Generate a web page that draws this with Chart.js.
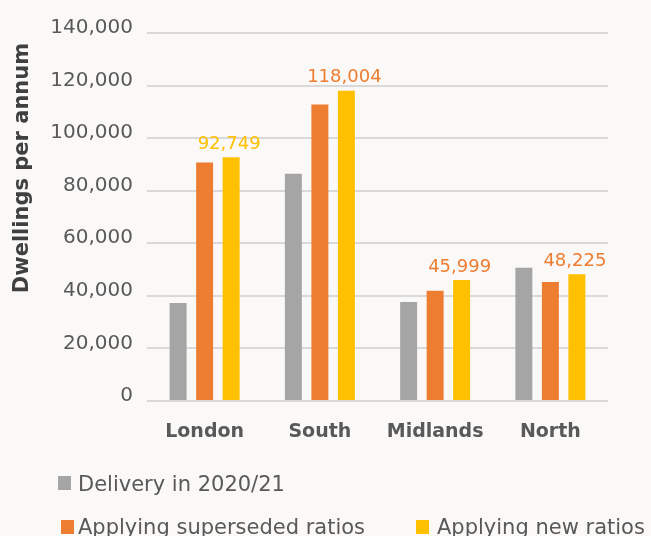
<!DOCTYPE html>
<html lang="en">
<head>
<meta charset="UTF-8">
<title>Dwellings per annum</title>
<script src="https://cdn.jsdelivr.net/npm/chart.js"></script>
<style>
    body {
        margin: 0;
        background: #FAF9F7;
    }
    #wrap {
        position: relative;
        width: 651px;
        height: 536px;
        overflow: hidden;
    }
    #legend {
        position: absolute;
        left: 0;
        top: 0;
        font-family: 'DejaVu Sans';
        font-size: 21px;
        color: #595959;
    }
    .item {
        position: absolute;
        white-space: nowrap;
        height: 24px;
        line-height: 24px;
    }
    .box {
        position: absolute;
        left: 0;
        width: 13px;
        height: 14px;
    }
    .txt {
        position: absolute;
        top: 0;
    }
</style>
</head>
<body>

<div id="wrap">
    <canvas id="myBarChart" width="651" height="536"></canvas>
    <div id="legend"></div>
</div>

<script>
var categories = ['London', 'South', 'Midlands', 'North'];
var seriesNames = ['Delivery in 2020/21', 'Applying superseded ratios', 'Applying new ratios'];
var seriesColors = ['#A5A5A5', '#ED7D31', '#FFC000'];

var delivery = [37300, 86500, 37700, 50700];
var superseded = [90700, 112800, 41900, 45300];
var newRatios = [92749, 118004, 45999, 48225];

var yTicks = [0, 20000, 40000, 60000, 80000, 100000, 120000, 140000];
var valueLabelColors = ['#FFC000', '#ED7D31', '#ED7D31', '#ED7D31'];

// legend rows: left, top, text offset
var legendPos = [[58, 472, 20], [61, 515, 17], [416, 515, 21]];

var seriesValues = [delivery, superseded, newRatios];

var barData = {
    labels: categories,
    datasets: seriesNames.map(function (name, i) {
        return {
            label: name,
            data: seriesValues[i],
            backgroundColor: seriesColors[i],
            categoryPercentage: 0.69,
            barPercentage: 0.64
        };
    })
};

// value labels above the "new ratios" bars
var valueLabels = {
    id: 'valueLabels',
    afterDatasetsDraw: function (chart) {
        var ctx = chart.ctx;
        var meta = chart.getDatasetMeta(2);
        ctx.save();
        ctx.font = '18px "DejaVu Sans"';
        ctx.textAlign = 'center';
        ctx.textBaseline = 'middle';
        meta.data.forEach(function (bar, i) {
            ctx.fillStyle = valueLabelColors[i];
            ctx.fillText(newRatios[i].toLocaleString('en-US'), bar.x - 2, bar.y - 13);
        });
        ctx.restore();
    }
};

// y axis title, sits higher than the axis middle
var yTitle = {
    id: 'yTitle',
    afterDraw: function (chart) {
        var ctx = chart.ctx;
        ctx.save();
        ctx.translate(23, 168);
        ctx.rotate(-Math.PI / 2);
        ctx.font = 'bold 21px "DejaVu Sans"';
        ctx.fillStyle = '#404040';
        ctx.textAlign = 'center';
        ctx.textBaseline = 'middle';
        ctx.fillText('Dwellings per annum', 0, 0);
        ctx.restore();
    }
};

var barOptions = {
    responsive: false,
    animation: false,
    devicePixelRatio: 1,
    layout: {
        padding: { top: 33, right: 43, bottom: 90, left: 0 }
    },
    plugins: {
        legend: { display: false },
        tooltip: { enabled: false }
    },
    scales: {
        x: {
            grid: { display: false },
            border: { display: false },
            ticks: {
                color: '#595959',
                font: { family: 'DejaVu Sans', size: 19, weight: 'bold' },
                padding: 12
            },
            afterFit: function (scale) { scale.height = 45; }
        },
        y: {
            min: 0,
            max: 140000,
            afterBuildTicks: function (scale) {
                scale.ticks = yTicks.map(function (v) { return { value: v }; });
            },
            grid: { color: '#D9D9D9', lineWidth: 2, drawTicks: false },
            border: { display: false },
            ticks: {
                color: '#595959',
                font: { family: 'DejaVu Sans', size: 20 },
                padding: 14,
                labelOffset: -5,
                callback: function (v) { return v.toLocaleString('en-US'); }
            },
            afterFit: function (scale) { scale.width = 147; }
        }
    }
};

var ctxBar = document.getElementById('myBarChart').getContext('2d');
var myBarChart = new Chart(ctxBar, {
    type: 'bar',
    data: barData,
    options: barOptions,
    plugins: [valueLabels, yTitle]
});

// html legend
var legendDiv = document.getElementById('legend');
seriesNames.forEach(function (name, i) {
    var item = document.createElement('div');
    item.className = 'item';
    item.style.left = legendPos[i][0] + 'px';
    item.style.top = legendPos[i][1] + 'px';
    var box = document.createElement('span');
    box.className = 'box';
    box.style.background = seriesColors[i];
    box.style.top = (i === 0 ? 4 : 5) + 'px';
    var txt = document.createElement('span');
    txt.className = 'txt';
    txt.style.left = legendPos[i][2] + 'px';
    txt.textContent = name;
    item.appendChild(box);
    item.appendChild(txt);
    legendDiv.appendChild(item);
});
</script>

</body>
</html>
